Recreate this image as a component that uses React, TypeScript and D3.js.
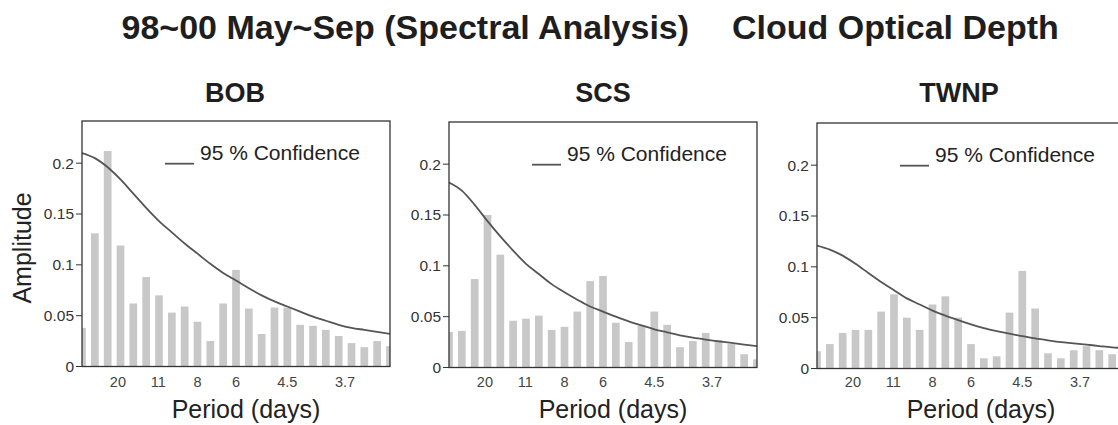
import React from "react";
import * as d3 from "d3";

// amplitude per frequency bin (25 bins, first and last are half clipped by the frame)
const regions = ["BOB", "SCS", "TWNP"];

const bobBars = [
  0.038, 0.131, 0.212, 0.119, 0.062, 0.088, 0.07, 0.053, 0.059, 0.044, 0.025, 0.062,
  0.095, 0.057, 0.032, 0.058, 0.058, 0.041, 0.04, 0.036, 0.03, 0.023, 0.019, 0.025, 0.02,
];
const scsBars = [
  0.035, 0.036, 0.087, 0.15, 0.111, 0.046, 0.048, 0.051, 0.037, 0.04, 0.055, 0.085,
  0.09, 0.044, 0.025, 0.041, 0.055, 0.042, 0.02, 0.026, 0.034, 0.027, 0.023, 0.013, 0.008,
];
const twnpBars = [
  0.017, 0.024, 0.035, 0.038, 0.038, 0.056, 0.073, 0.05, 0.038, 0.063, 0.071, 0.05,
  0.024, 0.01, 0.012, 0.055, 0.096, 0.059, 0.015, 0.01, 0.018, 0.022, 0.018, 0.014, 0.012,
];

// 95 % confidence level read at the same bins
const bobConf = [
  0.21, 0.205, 0.196, 0.184, 0.17, 0.156, 0.143, 0.132, 0.121, 0.111, 0.101, 0.092,
  0.0846, 0.077, 0.07, 0.064, 0.059, 0.054, 0.049, 0.045, 0.041, 0.038, 0.036, 0.034, 0.032,
];
const scsConf = [
  0.182, 0.174, 0.16, 0.144, 0.129, 0.115, 0.102, 0.092, 0.082, 0.074, 0.0667, 0.06,
  0.055, 0.05, 0.0454, 0.0415, 0.0376, 0.0346, 0.0317, 0.0294, 0.0275, 0.0258, 0.0242, 0.0225, 0.021,
];
const twnpConf = [
  0.121, 0.117, 0.111, 0.103, 0.094, 0.085, 0.077, 0.069, 0.063, 0.057, 0.052, 0.0476,
  0.0433, 0.0397, 0.0368, 0.0342, 0.0319, 0.0296, 0.0277, 0.026, 0.0248, 0.0235, 0.0221, 0.0208, 0.02,
];

const barSeries = [bobBars, scsBars, twnpBars];
const confSeries = [bobConf, scsConf, twnpConf];

// period labels and where they sit on the bin axis
const periodLabels = ["20", "11", "8", "6", "4.5", "3.7"];
const periodAt = [2.8, 5.95, 9.0, 12.0, 16.0, 20.5];

const yTicks = [0, 0.05, 0.1, 0.15, 0.2];

const W = 1118;
const H = 425;
const panelLeft = [82, 449, 817];
const panelTop = [121, 122, 123];
const panelW = 308;
const panelH = 245.5;
const titleX = [235, 603, 959];
const font = "'Liberation Sans', Arial, Helvetica, sans-serif";

function Panel({ k }: { k: number }) {
  const left = panelLeft[k];
  const top = panelTop[k];
  const bars = barSeries[k];
  const conf = confSeries[k];

  const x = d3.scaleLinear().domain([0, bars.length - 1]).range([left, left + panelW]);
  const y = d3.scaleLinear().domain([0, 0.2415]).range([top + panelH, top]);
  const bw = 7.7;

  const line = d3
    .line<number>()
    .x((_, i) => x(i))
    .y((d) => y(d))
    .curve(d3.curveMonotoneX);

  const clipId = `clip-${k}`;

  return (
    <g>
      <defs>
        <clipPath id={clipId}>
          <rect x={left} y={top} width={panelW} height={panelH} />
        </clipPath>
      </defs>

      <text x={titleX[k]} y={101.5} textAnchor="middle" fontSize={27} fontWeight="bold" fill="#1e1e1e">
        {regions[k]}
      </text>

      <g clipPath={`url(#${clipId})`}>
        {bars.map((d, i) => (
          <rect key={i} x={x(i) - bw / 2} y={y(d)} width={bw} height={y(0) - y(d)} fill="#c8c8c8" />
        ))}
        <path d={line(conf) || ""} fill="none" stroke="#555" strokeWidth={1.8} />
      </g>

      <rect x={left} y={top} width={panelW} height={panelH} fill="none" stroke="#333" strokeWidth={1.3} />

      {yTicks.map((t) => (
        <g key={t}>
          <line x1={left - 6} x2={left} y1={y(t)} y2={y(t)} stroke="#333" strokeWidth={1} />
          <text x={left - 8} y={y(t)} dy="0.35em" textAnchor="end" fontSize={15.5} fill="#333">
            {t}
          </text>
        </g>
      ))}

      {periodLabels.map((p, i) => (
        <text key={p} x={x(periodAt[i])} y={387} textAnchor="middle" fontSize={14.5} fill="#444">
          {p}
        </text>
      ))}

      <text x={left + panelW / 2 + 10} y={418} textAnchor="middle" fontSize={25} fill="#222">
        Period (days)
      </text>

      <line x1={left + 83} x2={left + 112} y1={y(0.2) + 0.5} y2={y(0.2) + 0.5} stroke="#555" strokeWidth={1.8} />
      <text x={left + 118} y={y(0.2) - 3.5} fontSize={21} fill="#222">
        95 % Confidence
      </text>
    </g>
  );
}

export default function App() {
  return (
    <svg
      width={W}
      height={H}
      style={{ position: "absolute", left: 0, top: 0, background: "#fff", fontFamily: font }}
    >
      <text x={121.5} y={39} fontSize={34} fontWeight="bold" fill="#1e1e1e">
        98~00 May~Sep (Spectral Analysis)
      </text>
      <text x={732} y={39} fontSize={34} fontWeight="bold" fill="#1e1e1e">
        Cloud Optical Depth
      </text>

      <text
        transform="translate(31,248) rotate(-90)"
        textAnchor="middle"
        fontSize={25}
        fill="#222"
      >
        Amplitude
      </text>

      {regions.map((_, k) => (
        <Panel key={k} k={k} />
      ))}
    </svg>
  );
}
